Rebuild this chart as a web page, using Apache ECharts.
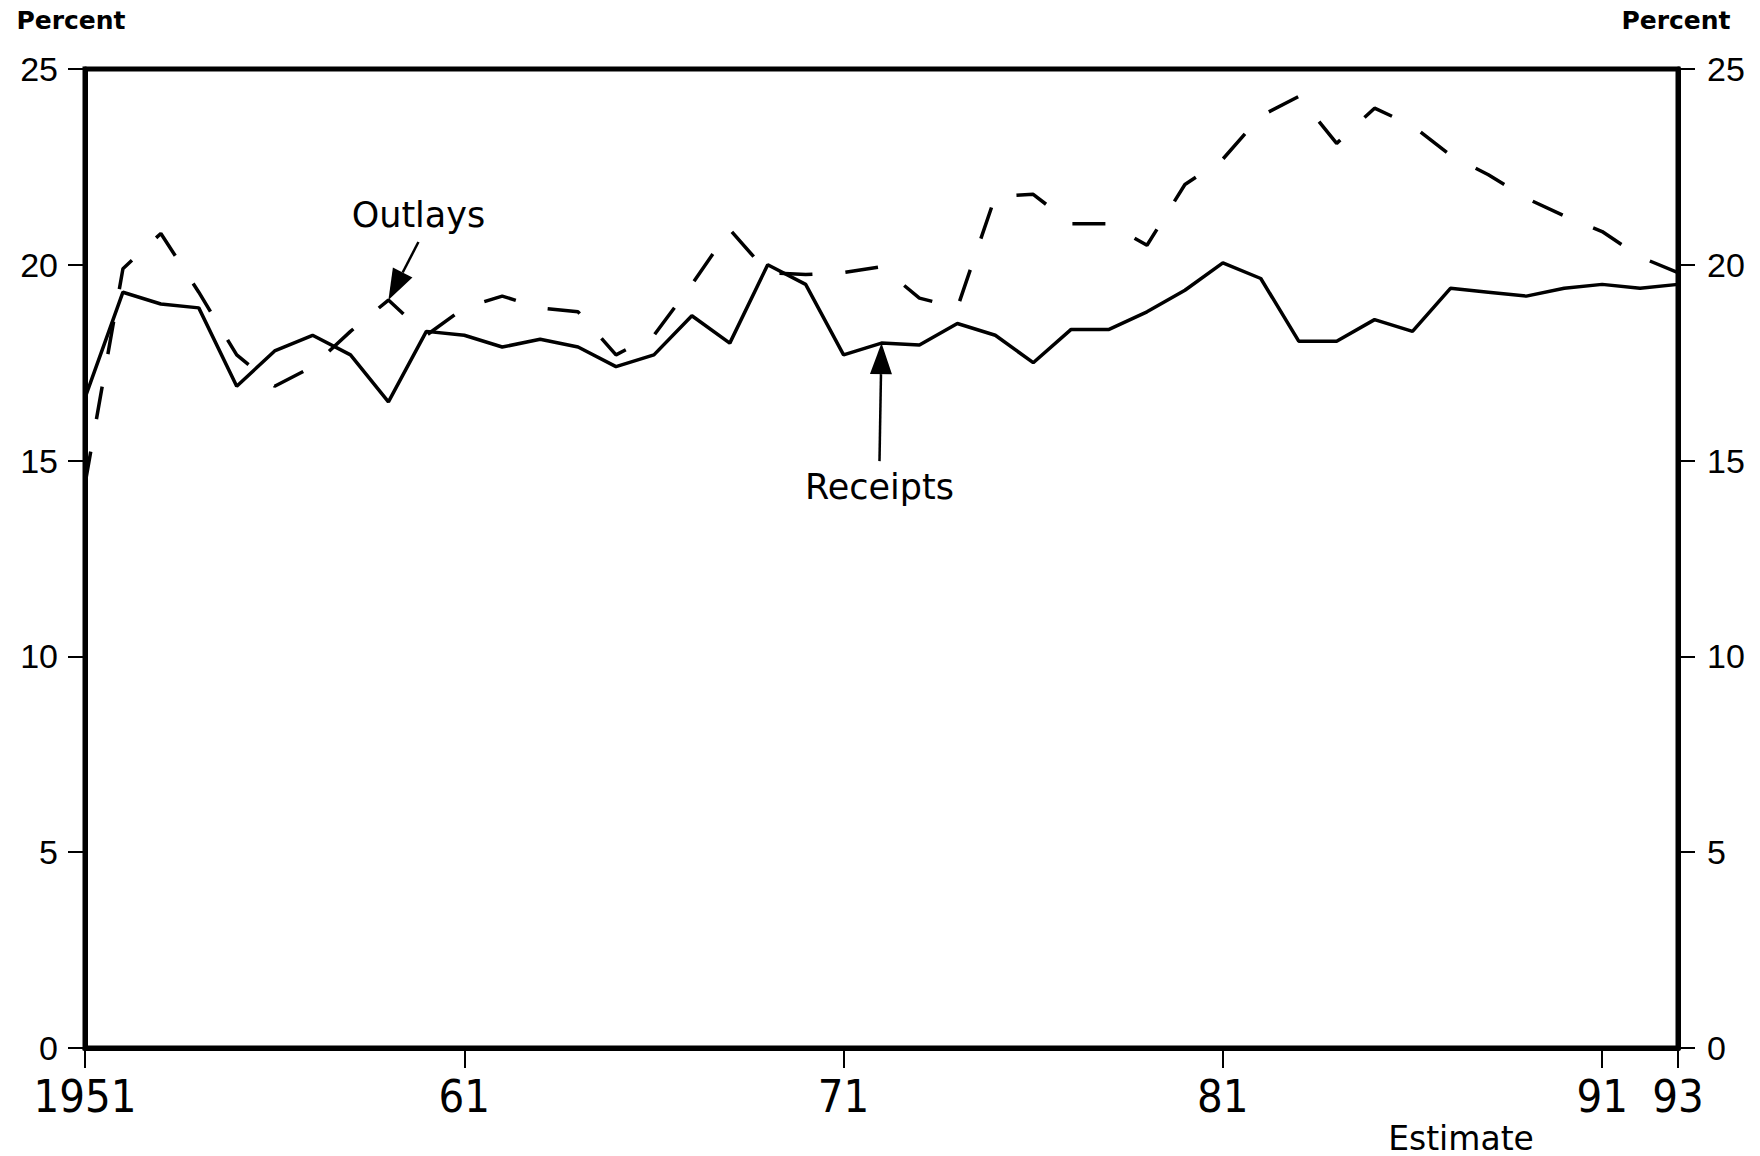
<!DOCTYPE html>
<html>
<head>
<meta charset="utf-8">
<title>Receipts and Outlays</title>
<script src="https://cdn.jsdelivr.net/npm/echarts@6/dist/echarts.min.js"></script>
<style>
  html, body { margin: 0; padding: 0; background: #fff; }
  #chart { width: 1760px; height: 1156px; }
</style>
</head>
<body>
<div id="chart"></div>
<script>
// fiscal years 1951-1993 (1992-93 estimate)
const years = [];
for (let y = 1951; y <= 1993; y++) years.push(y);

// percent
const receipts = [
  16.6, 19.3, 19.0, 18.9, 16.9, 17.8, 18.2, 17.7, 16.5, 18.3,
  18.2, 17.9, 18.1, 17.9, 17.4, 17.7, 18.7, 18.0, 20.0, 19.5,
  17.7, 18.0, 17.95, 18.5, 18.2, 17.5, 18.35, 18.35, 18.8, 19.35,
  20.05, 19.65, 18.05, 18.05, 18.6, 18.3, 19.4, 19.3, 19.2, 19.4,
  19.5, 19.4, 19.5
];
const outlays = [
  14.4, 19.9, 20.8, 19.3, 17.7, 16.9, 17.4, 18.3, 19.1, 18.2,
  18.9, 19.2, 18.9, 18.8, 17.7, 18.2, 19.5, 20.9, 19.8, 19.75,
  19.8, 19.95, 19.15, 18.9, 21.75, 21.8, 21.05, 21.05, 20.5, 22.05,
  22.7, 23.8, 24.3, 23.1, 24.0, 23.55, 22.8, 22.3, 21.7, 21.25,
  20.85, 20.2, 19.8
];

const xTicks = [1951, 1961, 1971, 1981, 1991, 1993];
const xTickLabels = ["1951", "61", "71", "81", "91", "93"];

// annotation anchors (year pointed at)
const outlaysNoteYear = 1959;
const receiptsNoteYear = 1972;

const chart = echarts.init(document.getElementById("chart"), null, { renderer: "svg" });

const yAxisBase = {
  type: "value",
  min: 0,
  max: 25,
  interval: 5,
  splitLine: { show: false },
  axisLine: { show: true, lineStyle: { color: "#000", width: 5 } },
  axisTick: { show: true, length: 17, lineStyle: { color: "#000", width: 2 } },
};

const option = {
  backgroundColor: "#fff",
  animation: false,
  grid: {
    left: 85,
    right: 82,
    top: 69,
    bottom: 108,
    show: true,
    borderColor: "#000",
    borderWidth: 5,
  },
  xAxis: {
    type: "value",
    min: 1951,
    max: 1993,
    splitLine: { show: false },
    axisLine: { show: true, onZero: false, lineStyle: { color: "#000", width: 5 } },
    axisTick: {
      show: true,
      length: 20,
      customValues: xTicks,
      lineStyle: { color: "#000", width: 2 },
    },
    axisLabel: {
      customValues: xTicks,
      margin: 26,
      color: "#000",
      fontFamily: "'Liberation Sans Narrow', 'DejaVu Sans Condensed', sans-serif",
      fontSize: 45,
      formatter: (v) => xTickLabels[xTicks.indexOf(v)],
    },
  },
  yAxis: [
    {
      ...yAxisBase,
      position: "left",
      axisLabel: { margin: 27, color: "#000", fontFamily: "Liberation Sans", fontSize: 34 },
    },
    {
      ...yAxisBase,
      position: "right",
      axisLabel: { margin: 29, color: "#000", fontFamily: "Liberation Sans", fontSize: 34 },
    },
  ],
  series: [
    {
      name: "Receipts",
      type: "line",
      symbol: "none",
      data: years.map((y, i) => [y, receipts[i]]),
      lineStyle: { color: "#000", width: 3.5 },
    },
    {
      name: "Outlays",
      type: "line",
      symbol: "none",
      data: years.map((y, i) => [y, outlays[i]]),
      lineStyle: { color: "#000", width: 3.5, type: [33, 33] },
    },
  ],
};

chart.setOption(option);

// arrow + text notes, placed from the data point they point at
function note(text, tip, lineOff, textOff) {
  const start = [tip[0] + lineOff[0], tip[1] + lineOff[1]];
  const dx = tip[0] - start[0], dy = tip[1] - start[1];
  const len = Math.sqrt(dx * dx + dy * dy);
  const ux = dx / len, uy = dy / len;
  const headL = 31, headW = 11;
  const bx = tip[0] - ux * headL, by = tip[1] - uy * headL;
  return [
    {
      type: "line",
      shape: { x1: start[0], y1: start[1], x2: bx, y2: by },
      style: { stroke: "#000", lineWidth: 2.5 },
    },
    {
      type: "polygon",
      shape: {
        points: [
          tip,
          [bx - uy * headW, by + ux * headW],
          [bx + uy * headW, by - ux * headW],
        ],
      },
      style: { fill: "#000" },
    },
    {
      type: "text",
      x: tip[0] + textOff[0],
      y: tip[1] + textOff[1],
      style: {
        text: text,
        fill: "#000",
        font: "35px 'DejaVu Sans'",
        align: "center",
        verticalAlign: "middle",
      },
    },
  ];
}

const oi = years.indexOf(outlaysNoteYear);
const ri = years.indexOf(receiptsNoteYear);
const outTip = chart.convertToPixel({ gridIndex: 0 }, [outlaysNoteYear, outlays[oi]]);
const recTip = chart.convertToPixel({ gridIndex: 0 }, [receiptsNoteYear, receipts[ri]]);

const headerStyle = { fill: "#000", font: "bold 25px 'DejaVu Sans'", align: "center", verticalAlign: "middle" };

chart.setOption({
  graphic: [
    ...note("Outlays", outTip, [30, -58], [30, -85]),
    ...note("Receipts", recTip, [-2, 118], [-2, 144]),
    { type: "text", x: 71, y: 20, style: { ...headerStyle, text: "Percent" } },
    { type: "text", x: 1676, y: 20, style: { ...headerStyle, text: "Percent" } },
    {
      type: "text",
      x: 1461,
      y: 1138,
      style: { text: "Estimate", fill: "#000", font: "33px 'DejaVu Sans'", align: "center", verticalAlign: "middle" },
    },
  ],
});

window.addEventListener("resize", () => {
  chart && chart.resize();
});
</script>
</body>
</html>
